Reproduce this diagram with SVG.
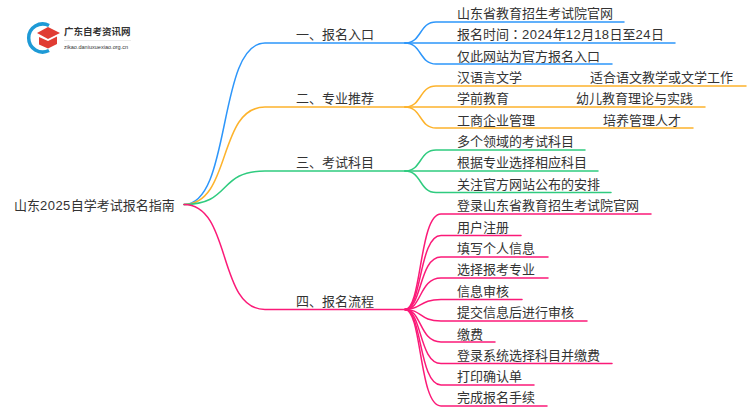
<svg xmlns="http://www.w3.org/2000/svg" width="750" height="410" viewBox="0 0 750 410">
<style>
text{font-family:"Liberation Sans","Noto Sans CJK SC",sans-serif;font-size:13px;fill:#333}
.tc{font-family:"Noto Sans CJK TC",sans-serif}
.d{letter-spacing:0.450px}
#connectors path{fill:none;stroke-width:1.5;stroke-linecap:round}
.b{stroke:#2d96fa}.o{stroke:#fdb32c}.g{stroke:#2fcb7f}.p{stroke:#fb1a78}
</style>
<rect width="750" height="410" fill="#fff"/>
<g id="logo">
<path d="M49 25.500A14 14 0 1 0 49 50.500" fill="none" stroke="#1e9ad6" stroke-width="3.500"/>
<path d="M37 33L48 27L60 33L48 39Z" fill="#e03c33"/>
<path d="M39 37L48 41L57 36.500V44L48 48.500L39 44.500Z" fill="#e03c33"/>
<text x="64" y="35" style="font-size:9.500px;font-weight:700">广东自考资讯网</text>
<rect x="64" y="40" width="67" height="0.600" fill="#ddd"/>
<text x="64" y="48.500" textLength="64" style="font-size:5.500px">zikao.daniuxuexiao.org.cn</text>
</g>
<g id="connectors">
<path class="b" d="M184 204.500C232 204.500 217 43 265 43H405"/>
<path class="o" d="M184 204.500C232 204.500 217 107 265 107H405"/>
<path class="g" d="M184 204.500C232 204.500 217 171 265 171H405"/>
<path class="p" d="M184 204.500C232 204.500 217 309.500 265 309.500H405"/>
<path class="b" d="M405 43C422 43 419 22 436 22H624"/>
<path class="b" d="M405 43H675"/>
<path class="b" d="M405 43C422 43 419 64 436 64H612"/>
<path class="o" d="M405 107C422 107 419 86 436 86H746"/>
<path class="o" d="M405 107H705"/>
<path class="o" d="M405 107C422 107 419 128 436 128H693"/>
<path class="g" d="M405 171C422 171 419 150 436 150H585"/>
<path class="g" d="M405 171H598"/>
<path class="g" d="M405 171C422 171 419 192.500 436 192.500H611"/>
<path class="p" d="M405 309.500C422 309.500 419 214 441 214H651"/>
<path class="p" d="M405 309.500C422 309.500 419 235.500 441 235.500H521"/>
<path class="p" d="M405 309.500C422 309.500 419 257 441 257H548"/>
<path class="p" d="M405 309.500C422 309.500 419 278 441 278H548"/>
<path class="p" d="M405 309.500C422 309.500 419 299.500 441 299.500H522"/>
<path class="p" d="M405 309.500C422 309.500 419 321 441 321H587"/>
<path class="p" d="M405 309.500C422 309.500 419 342 441 342H495"/>
<path class="p" d="M405 309.500C422 309.500 419 363.500 441 363.500H612"/>
<path class="p" d="M405 309.500C422 309.500 419 385 441 385H534"/>
<path class="p" d="M405 309.500C422 309.500 419 406 441 406H547"/>
</g>
<g id="root"><text x="14" y="210">山东<tspan class="d">2025</tspan>自学考试报名指南</text></g>
<g id="n1"><text x="296" y="39">一、报名入口</text></g>
<g id="n2"><text x="296" y="103">二、专业推荐</text></g>
<g id="n3"><text x="296" y="167">三、考试科目</text></g>
<g id="n4"><text x="296" y="306">四、报名流程</text></g>
<g id="n1a"><text x="457" y="18">山东省教育招生考试院官网</text></g>
<g id="n1b"><text x="457" y="39">报名时间<tspan class="tc">：</tspan><tspan class="d">2024</tspan>年<tspan class="d">12</tspan>月<tspan class="d">18</tspan>日至<tspan class="d">24</tspan>日</text></g>
<g id="n1c"><text x="457" y="61">仅此网站为官方报名入口</text></g>
<g id="n2a"><text x="457" y="82">汉语言文学</text><text x="590" y="82">适合语文教学或文学工作</text></g>
<g id="n2b"><text x="457" y="103">学前教育</text><text x="576" y="103">幼儿教育理论与实践</text></g>
<g id="n2c"><text x="457" y="125">工商企业管理</text><text x="603" y="125">培养管理人才</text></g>
<g id="n3a"><text x="457" y="146">多个领域的考试科目</text></g>
<g id="n3b"><text x="457" y="167">根据专业选择相应科目</text></g>
<g id="n3c"><text x="457" y="189">关注官方网站公布的安排</text></g>
<g id="n4a"><text x="457" y="210">登录山东省教育招生考试院官网</text></g>
<g id="n4b"><text x="457" y="232">用户注册</text></g>
<g id="n4c"><text x="457" y="253">填写个人信息</text></g>
<g id="n4d"><text x="457" y="274">选择报考专业</text></g>
<g id="n4e"><text x="457" y="296">信息审核</text></g>
<g id="n4f"><text x="457" y="317">提交信息后进行审核</text></g>
<g id="n4g"><text x="457" y="339">缴费</text></g>
<g id="n4h"><text x="457" y="360">登录系统选择科目并缴费</text></g>
<g id="n4i"><text x="457" y="381">打印确认单</text></g>
<g id="n4j"><text x="457" y="402">完成报名手续</text></g>
</svg>
